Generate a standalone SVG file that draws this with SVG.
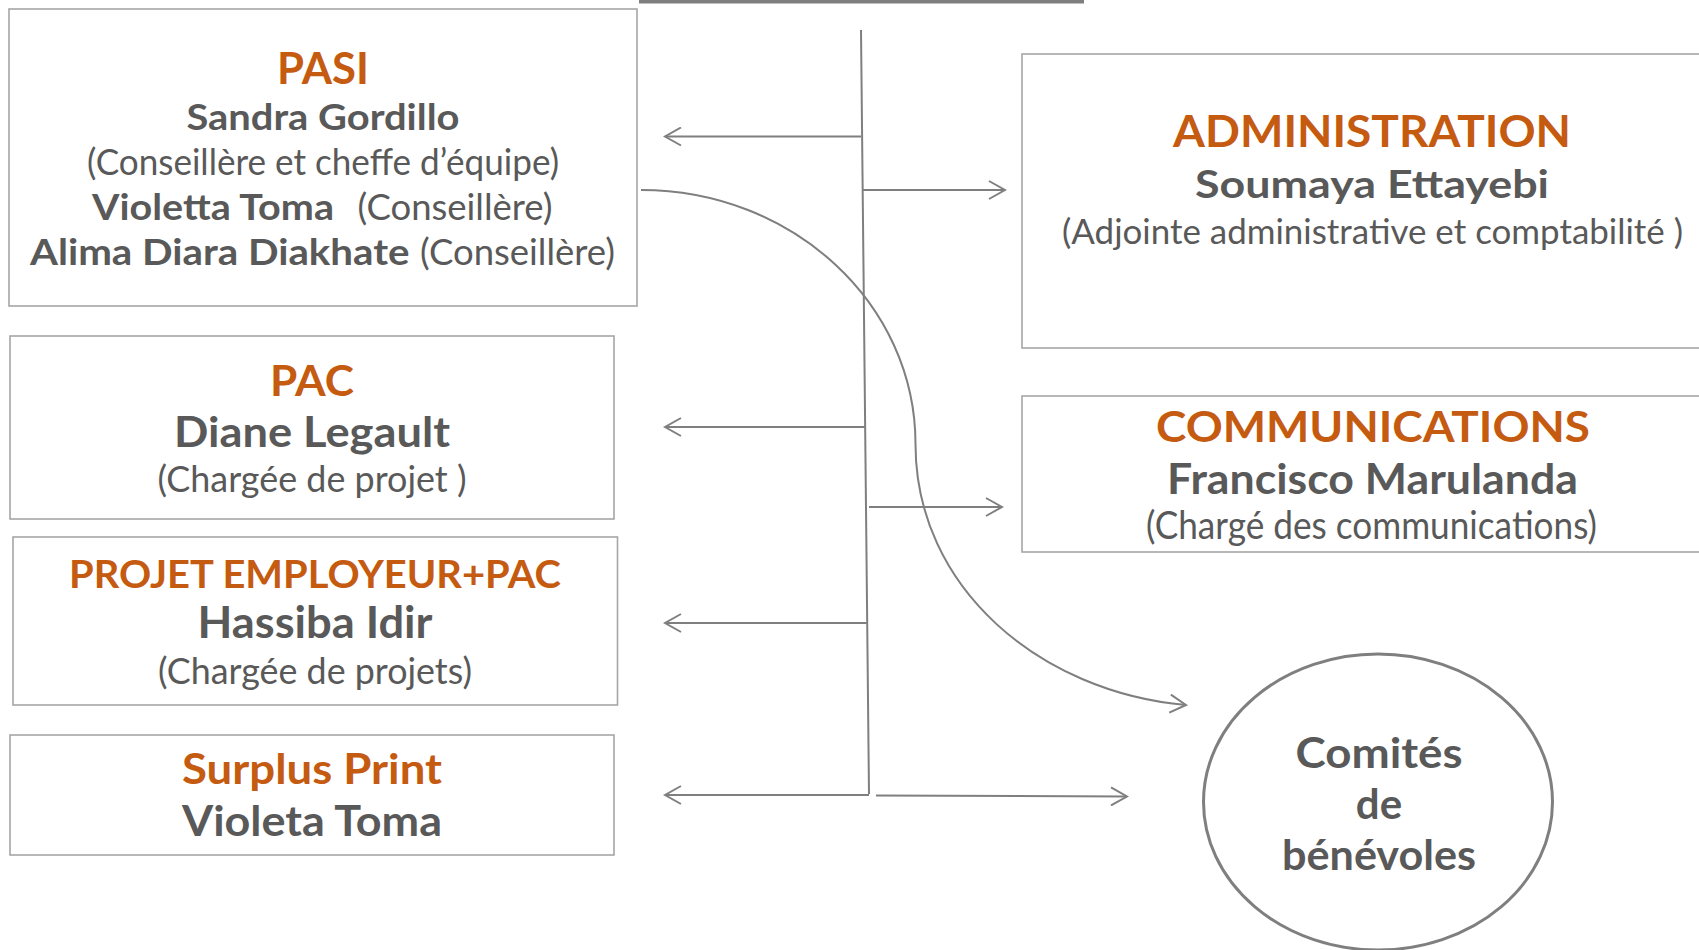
<svg xmlns="http://www.w3.org/2000/svg" width="1699" height="950" viewBox="0 0 1699 950">
<style>
.box{fill:#ffffff;stroke:#a6a6a6;stroke-width:1.6}
.hd{font-family:Lato,"Open Sans","Liberation Sans",sans-serif;font-weight:700;fill:#c55a11;text-anchor:middle}
.nm{font-family:Lato,"Open Sans","Liberation Sans",sans-serif;font-weight:700;fill:#595959;text-anchor:middle}
.rl{font-family:Lato,"Open Sans","Liberation Sans",sans-serif;font-weight:400;fill:#595959;text-anchor:middle}
.st{text-anchor:start}
.ln{fill:none;stroke:#7f7f7f;stroke-width:2}
</style>
<defs>
<marker id="ah" viewBox="0 0 20 20" refX="18" refY="10" markerWidth="20" markerHeight="20" markerUnits="userSpaceOnUse" orient="auto">
<path d="M2,1 L18,10 L2,19" fill="none" stroke="#7f7f7f" stroke-width="2"/>
</marker>
</defs>
<rect width="1699" height="950" fill="#ffffff"/>
<line x1="639" y1="1.5" x2="1084" y2="1.5" stroke="#7f7f7f" stroke-width="4"/>

<g id="connectors">
<line class="ln" x1="861" y1="30" x2="869" y2="794"/>
<line class="ln" x1="861" y1="136.5" x2="665" y2="136.5" marker-end="url(#ah)"/>
<line class="ln" x1="865" y1="427" x2="665" y2="427" marker-end="url(#ah)"/>
<line class="ln" x1="867" y1="623" x2="665" y2="623" marker-end="url(#ah)"/>
<line class="ln" x1="869" y1="795" x2="665" y2="795" marker-end="url(#ah)"/>
<line class="ln" x1="862" y1="190" x2="1005" y2="190" marker-end="url(#ah)"/>
<line class="ln" x1="869" y1="507" x2="1002" y2="507" marker-end="url(#ah)"/>
<line class="ln" x1="876" y1="795.5" x2="1127" y2="796.5" marker-end="url(#ah)"/>
<path class="ln" d="M641,190 C793,190 915.5,304 915.5,444 C915.5,588 1040,692 1186,705" marker-end="url(#ah)"/>
</g>

<g id="pasi">
<rect class="box" x="9" y="9" width="628" height="297"/>
<text class="hd" x="323" y="84" font-size="44" textLength="92" lengthAdjust="spacingAndGlyphs">PASI</text>
<text class="nm" x="323" y="130" font-size="37" textLength="273" lengthAdjust="spacingAndGlyphs">Sandra Gordillo</text>
<text class="rl" x="323" y="175" font-size="36" textLength="472" lengthAdjust="spacingAndGlyphs">(Conseillère et cheffe d’équipe)</text>
<text class="nm st" x="92" y="220" font-size="37" textLength="242" lengthAdjust="spacingAndGlyphs">Violetta Toma</text>
<text class="rl st" x="357.5" y="220" font-size="36" textLength="195" lengthAdjust="spacingAndGlyphs">(Conseillère)</text>
<text class="nm st" x="30" y="265" font-size="37" textLength="379.5" lengthAdjust="spacingAndGlyphs">Alima Diara Diakhate</text>
<text class="rl st" x="420" y="265" font-size="36" textLength="195" lengthAdjust="spacingAndGlyphs">(Conseillère)</text>
</g>

<g id="pac">
<rect class="box" x="10" y="336" width="604" height="183"/>
<text class="hd" x="312" y="396" font-size="42" textLength="84" lengthAdjust="spacingAndGlyphs">PAC</text>
<text class="nm" x="312" y="447" font-size="42" textLength="276" lengthAdjust="spacingAndGlyphs">Diane Legault</text>
<text class="rl" x="312" y="492" font-size="37" textLength="309" lengthAdjust="spacingAndGlyphs">(Chargée de projet )</text>
</g>

<g id="projet">
<rect class="box" x="13" y="537" width="604.5" height="168"/>
<text class="hd" x="315" y="588" font-size="39" textLength="492" lengthAdjust="spacingAndGlyphs">PROJET EMPLOYEUR+PAC</text>
<text class="nm" x="315" y="638" font-size="43" textLength="235" lengthAdjust="spacingAndGlyphs">Hassiba Idir</text>
<text class="rl" x="315" y="684" font-size="37" textLength="314" lengthAdjust="spacingAndGlyphs">(Chargée de projets)</text>
</g>

<g id="surplus">
<rect class="box" x="10" y="735" width="604" height="120"/>
<text class="hd" x="312" y="784" font-size="42" textLength="260" lengthAdjust="spacingAndGlyphs">Surplus Print</text>
<text class="nm" x="312" y="836" font-size="42" textLength="260" lengthAdjust="spacingAndGlyphs">Violeta Toma</text>
</g>

<g id="administration">
<rect class="box" x="1022" y="54" width="690" height="294"/>
<text class="hd" x="1372" y="147" font-size="44" textLength="398" lengthAdjust="spacingAndGlyphs">ADMINISTRATION</text>
<text class="nm" x="1372" y="198" font-size="39" textLength="354" lengthAdjust="spacingAndGlyphs">Soumaya Ettayebi</text>
<text class="rl" x="1372.5" y="244" font-size="35" textLength="621" lengthAdjust="spacingAndGlyphs">(Adjointe administrative et comptabilité )</text>
</g>

<g id="communications">
<rect class="box" x="1022" y="396" width="690" height="156"/>
<text class="hd" x="1373" y="442" font-size="42" textLength="434" lengthAdjust="spacingAndGlyphs">COMMUNICATIONS</text>
<text class="nm" x="1372.5" y="494" font-size="42" textLength="411" lengthAdjust="spacingAndGlyphs">Francisco Marulanda</text>
<text class="rl" x="1371.5" y="539" font-size="39" textLength="451" lengthAdjust="spacingAndGlyphs">(Chargé des communications)</text>
</g>

<g id="comites">
<ellipse cx="1378" cy="802" rx="174.5" ry="148" fill="#ffffff" stroke="#7f7f7f" stroke-width="3"/>
<text class="nm" x="1379" y="768" font-size="42" textLength="167" lengthAdjust="spacingAndGlyphs">Comités</text>
<text class="nm" x="1379" y="819" font-size="42">de</text>
<text class="nm" x="1379" y="870" font-size="42" textLength="194" lengthAdjust="spacingAndGlyphs">bénévoles</text>
</g>
</svg>
